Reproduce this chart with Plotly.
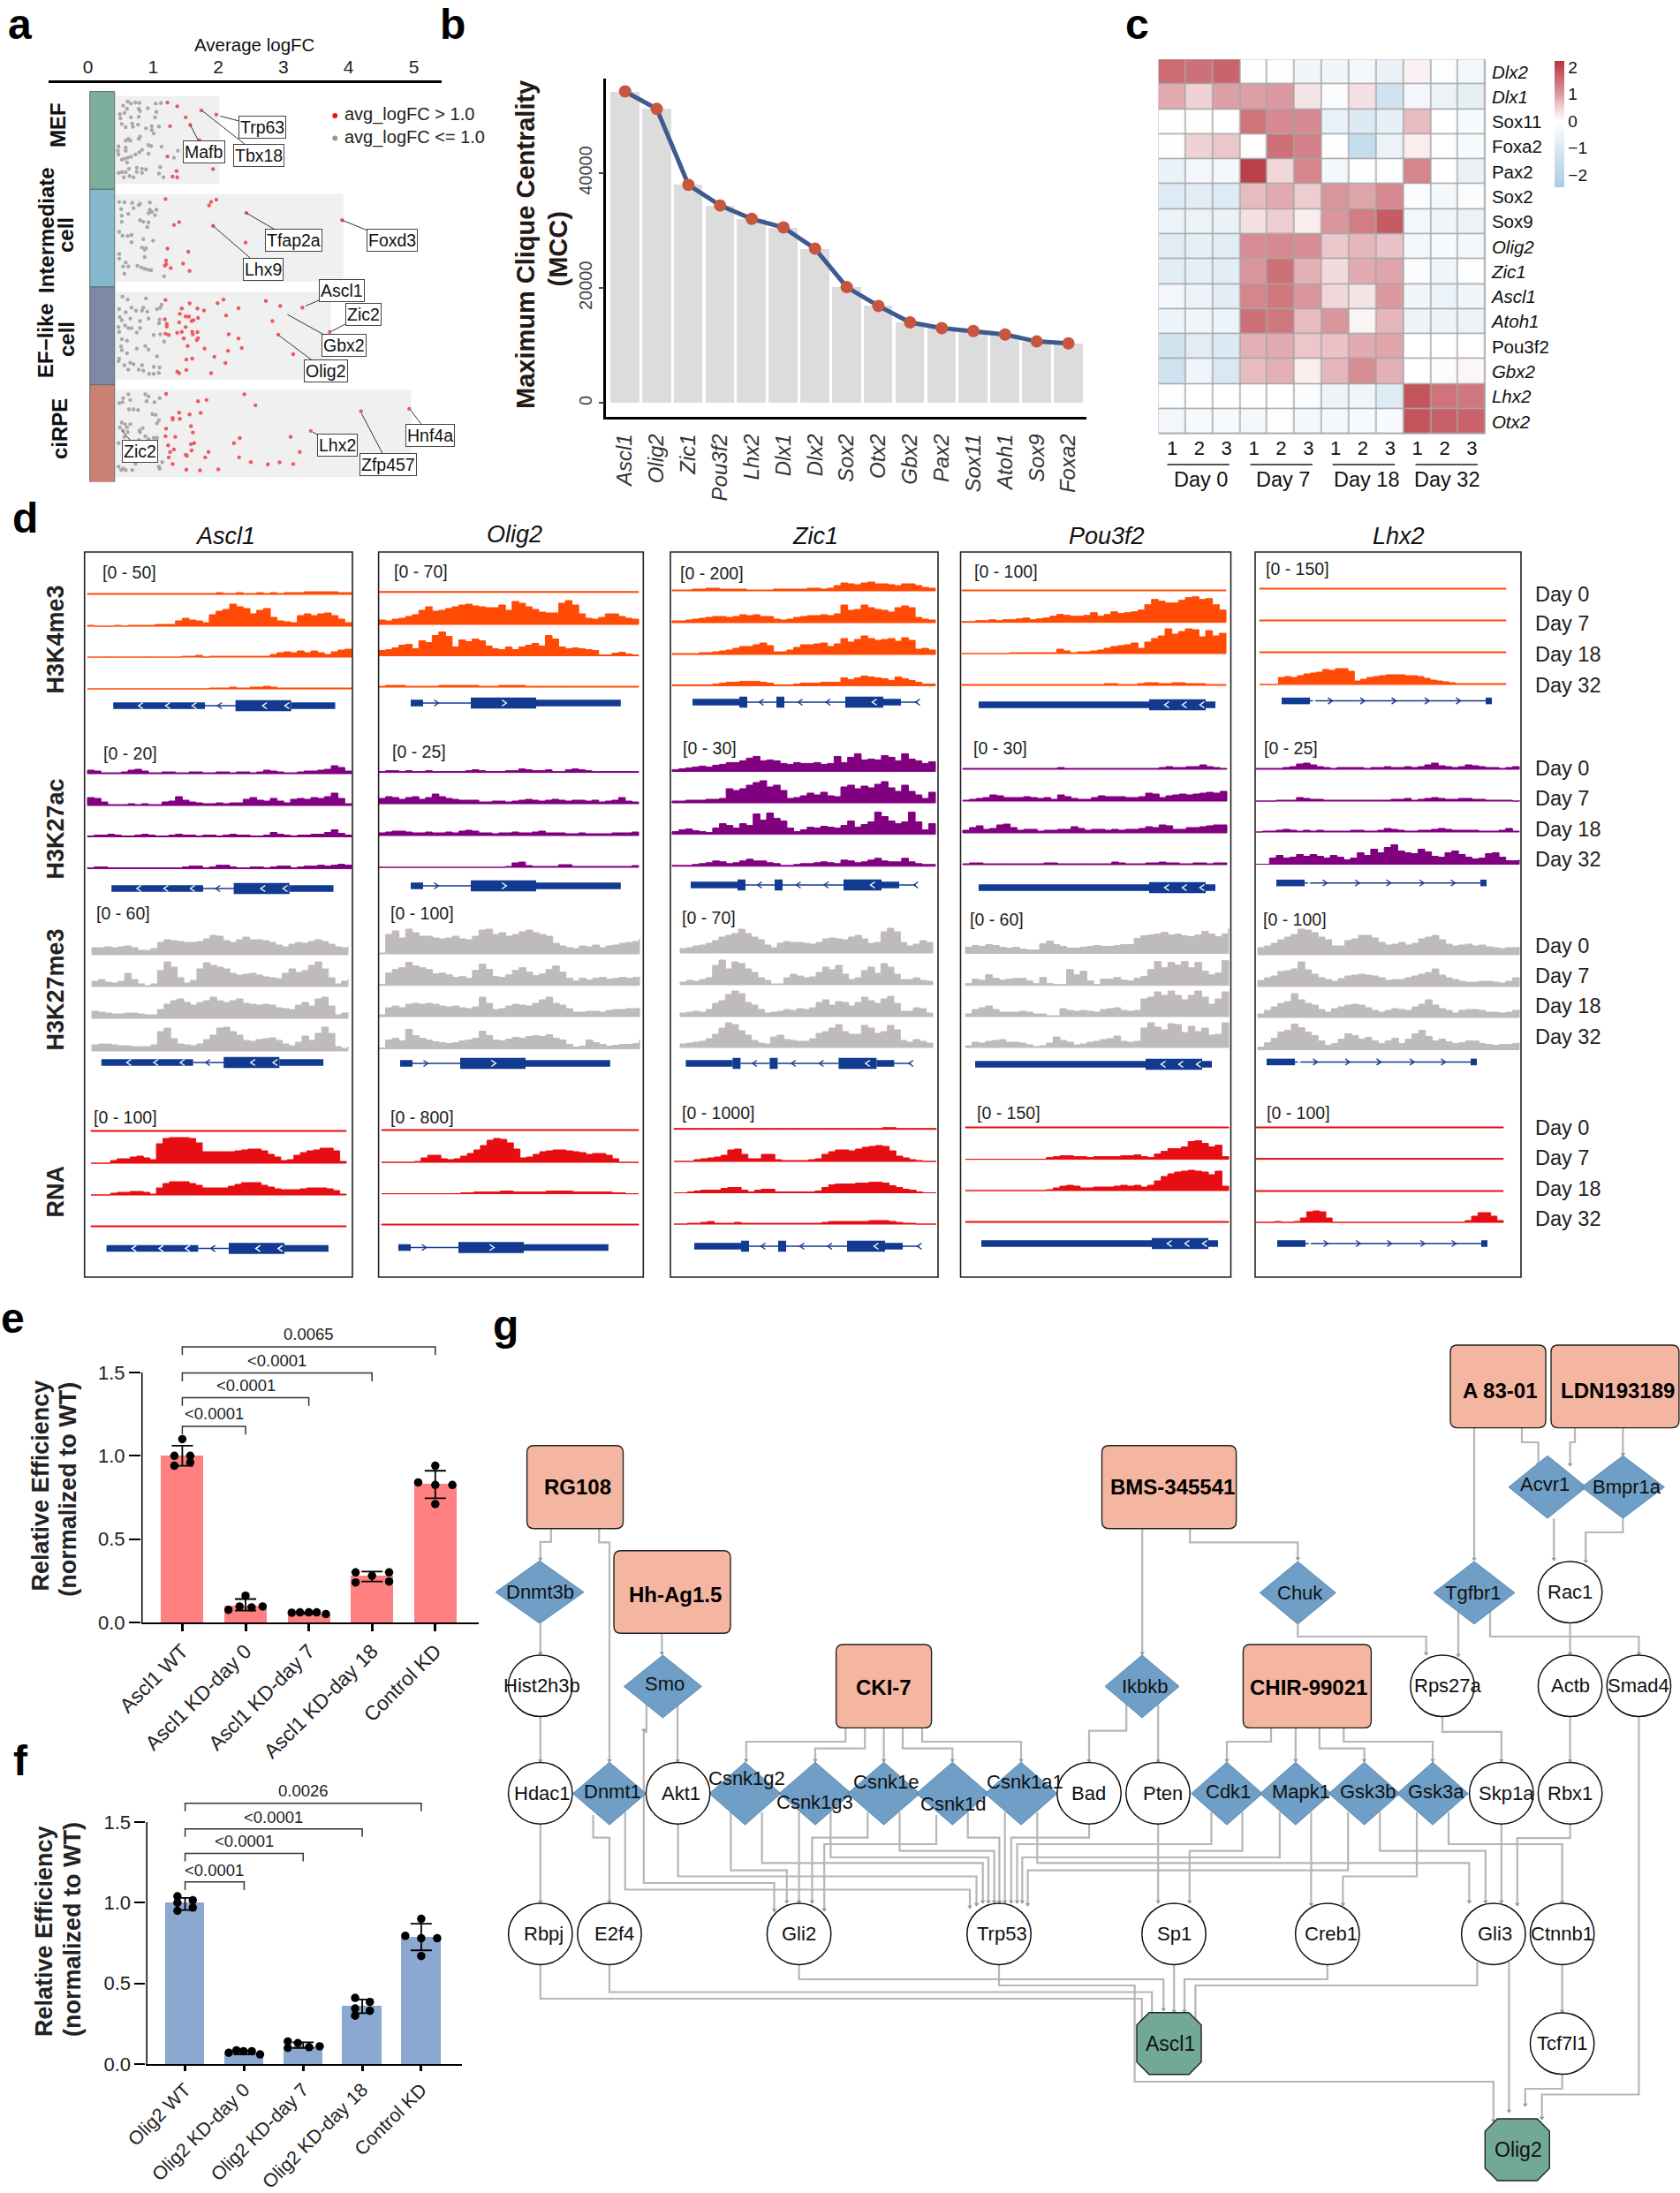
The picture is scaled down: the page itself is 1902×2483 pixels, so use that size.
import plotly.graph_objects as go

W, H = 1902, 2483
FONT = "Liberation Sans"

# ---------- panel a: average logFC (x) and jitter rank inside the row (y) ----------
GROUPS_A = ["MEF", "Intermediate cell", "EF-like cell", "ciRPE"]
GROUP_MAX_A = [2.02, 3.92, 3.73, 4.96]
mef_gray_x = [0.61,0.66,0.73,0.79,0.60,0.78,0.80,0.92,1.04,1.12,1.05,0.49,0.56,0.50,0.66,0.78,1.03,0.52,0.58,0.68,0.77,0.69,0.89,0.98,1.09,0.98,1.01,0.80,0.62,0.58,0.65,0.47,0.58,0.46,0.58,0.47,0.79,0.73,0.66,0.61,0.56,0.52,0.83,0.97,1.13,0.93,1.38,1.32,0.93,0.60,0.63,0.75,0.83,0.89,0.52,0.47,0.58,0.64,0.55,0.70,0.75,0.83,1.09,1.11,1.16,0.78,0.54]
mef_gray_y = [32,38,35,36,55,55,62,53,38,37,65,72,68,85,82,80,82,103,113,102,105,112,117,110,111,122,133,143,150,156,156,174,178,188,188,200,193,200,207,210,213,216,185,173,175,170,188,210,197,225,245,242,245,247,256,258,256,268,272,272,255,258,260,240,272,150,45]
mef_red_x = [1.22,1.37,1.74,1.97,1.50,1.57,1.26,1.71,1.22,1.92,1.36,1.30,1.37]
mef_red_y = [35,47,60,73,82,106,110,154,206,246,252,270,272]
int_gray_x = [0.48,0.56,0.68,0.80,0.95,0.78,0.70,0.51,0.62,0.52,0.95,1.05,0.98,0.93,1.03,0.80,0.85,0.52,0.93,0.91,0.48,0.53,0.61,0.67,0.67,0.85,1.00,0.83,0.89,0.87,0.48,0.48,0.87,0.58,0.54,0.62,0.76,0.82,0.87,0.92,0.97,0.56,1.17]
int_gray_y = [40,41,43,46,42,50,60,63,78,84,65,65,72,76,82,98,103,103,105,120,135,147,148,145,168,158,163,185,187,192,205,220,215,232,245,245,243,248,252,255,257,268,276]
int_red_x = [1.19,1.97,1.89,1.86,2.43,3.90,1.40,1.32,1.92,2.42,1.22,1.54,1.20,1.46,1.20,1.18,1.27,1.56]
int_red_y = [31,33,40,51,75,98,104,113,116,169,188,198,226,236,238,242,250,259]
ef_gray_x = [0.53,0.61,0.89,1.13,0.48,0.67,0.85,1.06,1.11,0.74,0.91,0.83,0.58,0.49,0.65,0.93,0.52,0.80,1.10,1.09,0.47,0.57,0.62,0.67,0.80,0.48,0.75,1.01,1.11,1.17,0.52,0.60,0.51,0.88,0.75,0.93,0.52,0.60,0.48,0.47,1.06,0.56,0.65,0.70,0.62,0.78,0.85,1.01,1.10,0.94,1.01,1.09,0.83]
ef_gray_y = [30,40,36,56,70,65,65,70,66,75,78,75,80,95,100,100,105,108,103,115,127,122,130,130,130,142,144,152,150,173,165,170,188,187,195,198,200,210,227,235,220,248,240,245,262,262,265,253,255,275,275,272,248]
ef_red_x = [1.19,2.08,1.99,2.73,2.31,2.95,3.29,1.56,1.44,1.68,1.78,1.41,2.12,1.50,1.55,1.18,1.40,1.62,1.69,1.59,2.83,3.71,1.21,1.21,1.50,1.44,1.19,1.24,1.37,1.60,1.68,1.61,2.16,2.92,1.47,2.31,1.69,1.67,1.53,1.79,2.36,2.15,3.15,1.94,1.51,1.60,2.11,1.37,1.51,1.40,1.89]
ef_red_y = [41,40,51,44,67,60,65,52,68,68,74,85,90,93,94,102,112,105,98,108,108,142,117,125,127,142,148,152,145,142,143,150,150,151,163,163,162,168,187,195,193,202,213,221,230,227,241,268,263,273,273]
ci_gray_x = [0.48,0.54,0.62,0.53,0.65,0.88,0.93,0.90,1.02,1.10,0.63,0.70,0.77,0.99,1.04,1.09,1.06,0.52,0.57,0.65,0.49,0.60,0.54,0.61,0.79,0.84,0.80,0.56,0.88,0.93,1.01,1.06,0.67,0.47,1.01,1.14,0.73,0.68,0.47,0.54,0.58,0.51,1.09,1.10,0.78,0.65]
ci_gray_y = [58,42,30,55,48,30,37,52,55,42,78,78,80,93,95,112,122,120,125,125,135,135,145,150,145,137,150,165,163,172,168,168,185,185,210,245,250,270,260,265,270,270,260,266,175,200]
ci_red_x = [1.20,2.40,1.69,1.82,2.57,4.93,4.19,1.40,1.73,1.56,1.30,1.41,1.30,1.58,1.20,1.61,3.42,1.19,1.34,3.11,2.33,2.24,1.23,1.63,1.58,1.32,1.26,1.59,1.85,3.25,1.50,1.52,1.24,1.80,2.32,2.50,1.30,2.76,2.94,3.15,1.51,1.72,2.00]
ci_red_y = [29,30,52,48,65,76,84,88,89,94,105,108,110,131,139,151,146,163,165,165,169,185,192,185,188,205,213,208,213,213,222,225,230,230,230,245,251,252,246,251,269,271,268]

# ---------- panel b ----------
GENES_B = ["Ascl1","Olig2","Zic1","Pou3f2","Lhx2","Dlx1","Dlx2","Sox2","Otx2","Gbx2","Pax2","Sox11","Atoh1","Sox9","Foxa2"]
MCC_B = [54200,51160,37960,34370,32040,30550,26850,20170,16900,14030,13040,12540,11930,10720,10390]

# ---------- panel c ----------
GENES_C = ["<i>Dlx2</i>","<i>Dlx1</i>","Sox11","Foxa2","Pax2","Sox2","Sox9","<i>Olig2</i>","<i>Zic1</i>","<i>Ascl1</i>","<i>Atoh1</i>","Pou3f2","<i>Gbx2</i>","<i>Lhx2</i>","<i>Otx2</i>"]
REPS_C = ["1","2","3"] * 4
DAYS_C = ["Day 0","Day 7","Day 18","Day 32"]
row_dlx2 = [1.55,1.5,1.65,-0.1,-0.1,-0.4,-0.4,-0.3,-0.6,0.15,-0.1,-0.3]
row_dlx1 = [0.85,0.5,0.95,0.95,1.0,0.3,-0.15,0.35,-1.3,-0.35,-0.55,-0.75]
row_sox11 = [0,-0.03,0,1.45,1.2,1.2,-0.6,-0.95,-0.7,0.7,-0.02,-0.2]
row_foxa2 = [-0.03,0.5,0.6,0.02,1.5,1.3,-0.03,-1.6,-0.55,0.2,0.03,-0.2]
row_pax2 = [-0.6,-0.35,-0.35,2.1,0.45,1.25,-0.3,-0.1,-0.08,1.25,0,-0.6]
row_sox2 = [-0.9,-0.85,-0.9,0.7,0.85,0.55,1.05,0.9,1.2,-0.15,-0.3,-0.15]
row_sox9 = [-0.55,-0.55,-0.6,0.35,0.55,0.2,1.05,1.35,1.75,-0.35,-0.45,-0.55]
row_olig2 = [-0.85,-0.75,-0.85,1.15,1.2,1.15,0.6,0.75,0.65,-0.3,-0.25,-0.3]
row_zic1 = [-0.8,-0.75,-0.8,1.05,1.5,0.8,0.4,0.85,0.9,-0.12,-0.45,-0.1]
row_ascl1 = [-0.35,-0.5,-0.8,1.25,1.4,1.05,0.45,0.3,1.0,-0.4,-0.55,-0.45]
row_atoh1 = [-0.5,-0.45,-0.5,1.5,1.4,0.7,1.05,0.12,0.75,-0.5,-0.5,-0.55]
row_pou3f2 = [-1.3,-0.85,-0.95,0.8,0.85,0.6,0.65,0.85,0.9,0,0,0]
row_gbx2 = [-1.35,-0.45,-1.05,0.7,0.8,0.2,0.75,1.15,0.8,0,0.05,0.1]
row_lhx2 = [-0.1,0,0,-0.03,0,-0.15,-0.5,-0.45,-0.9,1.85,1.45,1.4]
row_otx2 = [-0.35,-0.25,-0.25,-0.3,-0.1,-0.3,-0.3,-0.25,-0.2,1.85,1.7,1.65]

# ---------- panel d: coverage signal per track (Day 0, 7, 18, 32), equal-width bins ----------
F = [1, 1]
ASCL1_K4 = [[1,1,1,1,1,1,1,1,1,1,1,1,1,1,1,1,1,1,1,2,1,1,2,1,1,2,1,2,1,2,2,2,3,3,3,3,3,2,2,1],
 [1,0,0,0,1,0,1,1,1,1,2,2,2,6,9,7,6,4,13,17,19,25,22,20,14,18,20,10,6,5,4,12,14,12,14,15,12,8,4,2],
 [0,0,0,0,0,0,0,0,0,0,0,0,0,0,1,1,2,0,1,1,1,1,1,1,1,1,1,3,5,6,5,7,5,7,5,3,6,8,9,6],
 [0,0,0,0,0,0,0,0,0,0,0,0,0,0,0,0,0,0,1,1,1,2,1,1,2,2,3,2,1,1,1,1,1,1,1,1,1,1,1,0]]
ASCL1_AC = [[4,3,1,1,1,2,4,5,3,1,1,2,2,1,1,2,2,1,1,2,2,1,2,2,1,2,4,3,2,1,1,2,3,3,4,5,9,7,3,1],
 [9,8,4,1,1,1,2,1,2,1,1,4,5,10,6,4,3,2,2,3,2,3,3,7,9,6,5,8,5,3,7,8,7,9,8,10,14,8,2,2],
 [1,2,2,3,2,1,1,2,3,2,1,1,2,3,2,2,1,2,2,1,2,3,2,2,1,1,2,5,3,2,1,2,2,3,3,5,8,4,2,1],
 [1,2,2,1,1,1,1,1,1,1,1,1,1,1,2,3,3,1,2,4,4,2,1,1,2,2,1,2,3,3,1,2,3,3,4,3,4,5,4,1]]
ASCL1_ME3 = [[8,8,9,8,9,10,8,5,5,7,14,17,16,15,14,14,15,18,22,21,16,14,17,20,17,17,16,14,11,9,12,14,13,15,17,15,12,9,8,9],
 [6,8,5,4,6,15,8,3,1,3,18,28,22,10,4,7,20,27,24,22,20,15,13,14,15,13,11,10,9,15,20,16,18,24,28,20,10,3,6,8],
 [8,7,6,5,5,6,6,5,4,4,10,16,20,22,18,15,18,20,24,20,18,20,22,17,16,15,16,15,12,11,10,15,18,14,22,24,14,4,6,7],
 [7,8,8,7,6,6,5,5,5,7,22,26,14,8,7,6,8,13,18,26,27,22,18,12,11,13,14,15,12,8,6,10,17,12,20,27,20,5,3,5]]
ASCL1_RNA = [F,
 [0,0,0,3,5,5,7,8,6,4,22,28,29,29,29,28,23,13,13,13,13,13,14,15,16,16,14,10,7,3,4,9,12,14,15,17,17,14,2,0],
 [0,0,0,2,3,3,4,4,3,1,8,13,15,15,15,13,11,8,8,8,8,10,12,14,14,14,11,9,7,6,6,6,7,8,8,8,7,5,1,0],
 F]
OLIG2_K4 = [F,
 [5,4,6,7,9,11,16,20,15,16,18,20,22,23,21,20,19,19,22,16,26,24,20,17,14,13,13,24,27,22,12,7,6,8,12,12,9,7,6,5],
 [6,7,9,12,13,8,17,15,23,27,22,10,18,16,19,17,11,8,7,10,7,10,12,14,11,23,19,10,8,9,8,7,6,1,1,3,4,2,1,1],
 [1,2,2,2,1,1,1,1,1,2,2,2,2,2,2,1,1,1,2,2,2,2,1,1,1,1,1,1,1,1,1,1,1,1,1,1,1,1,1,1]]
OLIG2_AC = [[1,2,2,1,2,1,1,2,1,1,1,1,1,2,3,2,1,1,1,2,2,4,3,2,2,3,1,1,3,4,3,2,1,1,1,1,1,1,1,1],
 [6,8,7,5,7,8,5,7,11,8,6,5,4,4,4,2,2,3,3,2,3,4,5,4,3,4,5,4,3,4,4,3,4,2,3,4,7,3,2,2],
 [3,4,5,5,4,3,3,4,3,3,4,3,5,6,5,3,3,2,3,3,4,3,3,4,5,3,3,3,2,2,3,2,2,2,2,3,3,3,4,4],
 [0,0,0,0,0,0,0,0,0,0,0,0,0,0,0,0,0,0,0,1,5,6,2,1,1,1,1,3,3,1,1,1,1,1,1,1,1,1,2,2]]
OLIG2_ME3 = [[1,22,26,18,28,24,20,20,18,17,18,20,17,16,20,27,28,22,24,20,22,25,27,24,22,20,12,9,7,6,9,8,10,7,9,10,12,13,14,17],
 [1,14,18,20,26,22,20,18,13,14,12,9,10,8,17,24,18,10,9,12,17,20,15,11,13,18,22,15,8,5,8,6,8,9,7,8,9,8,9,10],
 [2,10,12,10,14,15,14,15,14,12,11,12,10,9,11,22,15,8,9,12,14,13,12,15,19,22,15,13,9,5,5,6,6,5,7,8,8,9,9,10],
 [1,10,12,9,22,15,12,10,8,7,6,7,9,10,12,20,15,10,9,11,13,12,14,15,14,16,12,10,5,2,3,10,7,5,3,4,5,5,6,10]]
OLIG2_RNA = [F,
 [0,0,0,0,0,1,5,8,8,4,3,4,7,10,14,19,25,27,26,22,15,5,6,9,12,13,14,14,13,12,11,9,10,10,8,4,0,0,0,0],
 [0,0,0,0,0,0,0,0,0,0,0,0,1,1,2,2,2,2,3,3,2,2,2,2,2,3,3,3,3,2,2,2,2,2,2,1,1,0,0,0],
 F]
ZIC1_K4 = [[1,1,1,2,2,3,3,2,2,2,2,1,1,1,1,2,2,2,2,2,3,3,2,3,6,9,8,7,9,10,8,8,7,6,8,8,6,4,3,1],
 [2,2,3,4,5,6,7,7,6,7,9,8,9,7,7,4,3,4,6,7,8,8,9,8,10,20,14,15,20,17,15,14,12,17,19,17,6,4,3,1],
 [1,1,1,1,2,2,3,4,5,7,9,9,11,13,10,3,3,5,8,11,11,12,13,9,12,18,14,17,21,18,16,17,18,15,19,16,6,7,5,2],
 [1,1,1,1,1,1,2,3,4,4,5,5,5,4,3,1,1,1,2,3,3,3,4,4,4,9,7,9,11,10,9,8,6,10,8,6,4,2,2,1]]
ZIC1_AC = [[2,3,4,5,6,5,7,8,10,10,12,15,17,12,13,12,9,8,10,9,9,10,8,9,17,10,16,20,13,14,13,18,16,12,20,14,12,9,11,4],
 [2,2,3,3,3,4,4,5,16,14,16,20,23,25,18,20,14,5,6,8,11,9,12,8,7,18,20,16,19,17,21,24,17,13,20,13,9,5,12,8],
 [3,5,6,4,3,2,7,12,10,7,12,10,23,16,24,18,15,7,3,5,8,7,9,8,7,10,15,8,11,14,25,20,15,12,14,25,14,5,12,7],
 [1,1,1,2,3,4,6,5,3,4,6,8,6,6,4,3,1,1,2,3,3,4,5,4,3,7,6,4,5,7,9,6,5,5,9,5,3,2,2,1]]
ZIC1_ME3 = [[5,6,8,9,11,14,18,20,22,27,22,18,15,9,6,11,13,12,12,11,10,12,16,17,16,15,18,20,16,11,12,24,28,24,12,8,10,14,12,8],
 [3,5,4,6,8,22,28,18,26,24,18,14,8,5,1,1,8,12,10,8,9,14,20,17,22,12,6,8,16,20,13,24,20,12,6,6,8,5,4,3],
 [4,5,6,5,8,15,18,25,29,26,16,13,8,4,5,6,8,7,9,8,10,16,19,13,17,16,12,16,22,18,15,20,23,15,6,6,10,9,4,3],
 [4,5,6,7,10,15,22,28,26,19,14,8,5,4,12,14,9,8,7,7,10,16,18,22,26,18,15,15,25,22,16,18,25,20,8,6,9,7,5,3]]
ZIC1_RNA = [[1,1,1,1,1,1,1,1,1,1,1,1,1,1,1,1,1,1,1,1,1,1,1,1,1,1,1,1,1,1,1,2,2,1,1,1,1,1,1,1],
 [0,0,0,2,3,4,5,7,13,14,8,3,3,8,8,2,1,1,1,1,2,3,8,11,13,13,12,14,16,17,18,17,12,6,4,2,1,0,0,0],
 [0,0,1,2,3,3,3,5,6,6,3,1,3,4,4,1,1,1,1,1,1,2,6,9,10,10,10,11,11,12,12,11,8,6,4,3,1,0,0,0],
 [0,0,1,1,2,3,1,1,1,2,1,1,1,1,1,1,1,1,1,1,1,1,2,3,3,3,3,3,3,4,4,4,3,2,1,1,0,0,0,0]]
POU3F2_K4 = [F,
 [1,1,2,2,3,2,3,3,4,5,3,4,5,7,9,8,7,7,8,11,7,9,12,10,11,12,14,20,26,24,22,22,25,28,29,26,27,20,14,10],
 [0,0,0,0,0,0,0,1,1,1,1,1,1,1,5,3,1,2,2,3,4,6,8,9,10,12,6,13,17,20,28,22,25,28,27,19,26,20,23,18],
 [1,1,1,1,1,1,1,1,1,1,1,1,1,1,1,1,1,1,1,1,1,2,2,1,1,1,2,3,3,2,2,3,3,2,2,2,1,1,1,1]]
POU3F2_AC = [[1,1,1,1,1,1,1,1,1,1,1,1,1,1,2,1,1,1,1,1,1,1,1,1,1,1,1,1,1,2,3,2,2,3,3,5,3,2,1,1],
 [1,2,3,4,7,6,4,4,4,5,4,3,4,2,7,5,3,2,2,4,6,5,5,5,4,4,5,9,8,4,6,7,8,7,8,9,10,9,11,9],
 [3,6,8,4,5,9,10,6,3,4,4,2,3,3,4,4,7,5,3,4,4,3,4,3,4,4,5,7,6,9,8,4,4,6,6,7,8,9,9,8],
 [1,2,2,1,1,1,1,1,1,1,1,1,2,2,1,1,1,1,1,1,1,1,3,2,1,1,1,2,2,3,2,2,1,1,2,2,1,2,2,2]]
POU3F2_ME3 = [[7,9,8,10,9,7,6,7,5,4,4,11,14,10,8,6,6,7,8,9,8,8,9,10,10,17,20,21,22,24,21,22,20,19,21,25,22,19,22,28],
 [2,7,6,12,8,6,7,8,8,5,2,9,2,1,1,18,12,16,5,1,7,7,9,6,5,8,10,18,27,20,26,23,27,20,26,16,12,14,28,25],
 [3,8,10,12,8,5,5,5,6,5,3,3,1,1,9,7,6,7,6,5,8,9,10,7,6,7,20,22,28,24,29,24,19,24,29,22,14,20,28,22],
 [2,6,5,7,8,9,6,6,5,3,1,2,5,12,8,6,3,4,6,7,9,10,13,7,6,7,22,28,23,20,27,26,17,24,18,22,14,15,28,24]]
POU3F2_RNA = [F,
 [0,0,0,0,0,0,0,0,0,0,0,0,2,3,4,4,3,3,2,3,3,3,3,4,4,5,3,2,6,9,12,12,14,20,21,18,14,16,3,0],
 [0,0,0,0,0,0,0,0,0,0,0,0,1,3,5,6,5,3,3,4,4,4,5,6,5,6,4,6,11,16,19,21,22,23,22,21,18,22,5,0],
 F]
LHX2_K4 = [F, F, F,
 [0,0,0,8,9,8,10,12,13,14,17,16,18,18,15,4,6,8,9,10,11,11,11,10,10,9,7,5,4,3,2,1,1,1,1,1,1,1,1,1]]
LHX2_AC = [[1,1,1,1,2,3,6,7,5,3,2,1,2,2,2,2,1,2,2,3,2,2,3,2,3,5,7,4,3,2,3,5,4,3,2,2,1,2,3,2],
 [0,0,0,1,1,1,4,3,2,2,1,1,1,1,1,1,1,1,1,1,2,2,3,1,2,3,4,3,2,2,3,3,2,2,1,1,1,1,0,1],
 [0,1,1,2,3,2,1,2,1,2,1,1,1,1,2,2,1,1,2,4,3,2,1,1,2,2,3,4,3,2,2,2,2,1,1,1,2,4,1,0],
 [0,0,7,10,7,8,11,9,11,9,7,10,8,5,7,13,10,17,13,19,22,15,13,12,17,14,9,8,13,15,11,8,6,7,12,13,8,4,4,5]]
LHX2_ME3 = [[8,10,13,17,20,23,29,28,25,20,17,10,10,16,18,22,22,19,14,11,12,14,11,13,18,20,22,17,12,10,11,12,10,11,9,8,7,8,8,9],
 [7,10,12,17,18,20,28,19,14,10,8,6,9,12,13,14,13,12,10,7,8,8,10,12,14,16,20,13,10,8,6,5,5,6,6,5,4,6,10,8],
 [4,8,12,16,18,27,20,16,14,9,6,10,12,14,15,14,11,8,6,8,10,9,8,12,15,20,14,10,8,5,8,9,9,8,6,6,5,6,8,9],
 [3,8,13,20,22,29,25,20,16,10,5,7,12,18,16,12,14,10,7,10,13,7,12,18,22,15,10,12,9,7,8,10,10,7,6,5,6,6,7,8]]
LHX2_RNA = [F, F, F,
 [0,0,0,1,0,0,1,5,12,13,12,5,0,0,0,0,0,0,0,0,0,0,0,0,0,0,0,0,0,0,0,0,0,2,7,11,11,7,2,0]]
RANGES_ASCL1 = ["[0 - 50]","[0 - 20]","[0 - 60]","[0 - 100]"]
RANGES_OLIG2 = ["[0 - 70]","[0 - 25]","[0 - 100]","[0 - 800]"]
RANGES_ZIC1 = ["[0 - 200]","[0 - 30]","[0 - 70]","[0 - 1000]"]
RANGES_POU3F2 = ["[0 - 100]","[0 - 30]","[0 - 60]","[0 - 150]"]
RANGES_LHX2 = ["[0 - 150]","[0 - 25]","[0 - 100]","[0 - 100]"]
DAYS_D = ["Day 0","Day 7","Day 18","Day 32"]

# ---------- panels e, f ----------
CATS_E = ["Ascl1 WT","Ascl1 KD-day 0","Ascl1 KD-day 7","Ascl1 KD-day 18","Control KD"]
MEAN_E = [1.0,0.10,0.055,0.28,0.83]
ERR_UP_E = [0.06,0.04,0.005,0.025,0.08]
ERR_DN_E = [0.06,0.03,0.005,0.035,0.085]
DOTS_E = [[1.10,1.00,1.00,0.94,0.96],[0.16,0.075,0.095,0.09,0.095],[0.058,0.06,0.06,0.06,0.05],[0.30,0.30,0.28,0.24,0.245],[0.94,0.84,0.825,0.825,0.71]]
JIT_E = [[0,-.125,.125,-.125,.125],[0,-.27,-.095,.095,.27],[-.27,-.14,0,.125,.27],[-.26,.27,0,-.26,.27],[0,-.27,0,.27,0]]
PVALS_E = ["0.0065","<0.0001","<0.0001","<0.0001"]
CATS_F = ["Olig2 WT","Olig2 KD-day 0","Olig2 KD-day 7","Olig2 KD-day 18","Control KD"]
MEAN_F = [1.0,0.07,0.11,0.36,0.79]
ERR_UP_F = [0.03,0.01,0.025,0.04,0.08]
ERR_DN_F = [0.045,0.01,0.01,0.045,0.085]
DOTS_F = [[1.04,1.015,1.0,0.97,0.95],[0.07,0.085,0.08,0.08,0.06],[0.14,0.13,0.10,0.105,0.11],[0.41,0.385,0.345,0.33,0.30],[0.90,0.795,0.78,0.78,0.67]]
JIT_F = [[-.13,.13,-.13,.13,-.13],[-.26,-.13,-.01,.13,.27],[-.26,-.09,-.26,.1,.28],[-.12,.13,-.12,.13,-.12],[0,-.27,0,.27,0]]
PVALS_F = ["0.0026","<0.0001","<0.0001","<0.0001"]

# ---------- helpers ----------
fig = go.Figure()
annots, shapes = [], []

def dx(l, r): return [l / W, r / W]
def dy(t, b): return [1 - b / H, 1 - t / H]

def txt(x, y, s, size, anchor="center", angle=0, color="#111"):
    annots.append(dict(x=x / W, y=1 - y / H, xref="paper", yref="paper", text=s, showarrow=False,
                       xanchor=anchor, yanchor="middle", textangle=angle,
                       font=dict(size=size, color=color, family=FONT), borderpad=0))

for s, x, y in [("a",22,28),("b",512,28),("c",1287,28),("d",28,586),("e",14,1492),("f",23,1993),("g",572,1500)]:
    txt(x, y, f"<b>{s}</b>", 48, color="#000")

# ---------- panel a ----------
A_COLORS = ["#7DAE9C", "#85B8CC", "#7C8AA8", "#CB8275"]
row_step = 310
for i, (gmax, col) in enumerate(zip(GROUP_MAX_A, A_COLORS)):
    shapes.append(dict(type="rect", xref="x", yref="y", x0=0.425, x1=gmax, y0=15 + i * row_step, y1=293 + i * row_step,
                       fillcolor="#F0F0F0", line_width=0, layer="below"))
    shapes.append(dict(type="rect", xref="x", yref="y", x0=0.03, x1=0.41, y0=i * row_step, y1=(i + 1) * row_step,
                       fillcolor=col, line=dict(color="#5F6B68", width=1), layer="below"))
pts = [(mef_gray_x, mef_gray_y, mef_red_x, mef_red_y), (int_gray_x, int_gray_y, int_red_x, int_red_y),
       (ef_gray_x, ef_gray_y, ef_red_x, ef_red_y), (ci_gray_x, ci_gray_y, ci_red_x, ci_red_y)]
for i, (gx, gy, rx, ry) in enumerate(pts):
    fig.add_trace(go.Scatter(x=gx, y=[v + i * row_step for v in gy], mode="markers", xaxis="x", yaxis="y",
                             marker=dict(size=4.4, color="#A8A8A8")))
    fig.add_trace(go.Scatter(x=rx, y=[v + i * row_step for v in ry], mode="markers", xaxis="x", yaxis="y",
                             marker=dict(size=4.4, color="#EC5B5E")))
fig.add_trace(go.Scatter(x=[3.79], y=[77], mode="markers", xaxis="x", yaxis="y", marker=dict(size=6, color="#E8141C")))
fig.add_trace(go.Scatter(x=[3.79], y=[148], mode="markers", xaxis="x", yaxis="y", marker=dict(size=6, color="#999999")))
txt(389, 129, "avg_logFC &gt; 1.0", 20, "left", color="#222")
txt(389, 156, "avg_logFC &lt;= 1.0", 20, "left", color="#222")
txt(288, 50, "Average logFC", 20.5)
a_labels = [("Trp63",2.03,78,48,12.5),("Tbx18",1.76,62,63.5,50),("Mafb",1.57,106,16,31),("Tfap2a",2.43,385,54,31.4),
            ("Foxd3",3.90,408,57,23),("Lhx9",1.92,426,56.6,49),("Ascl1",3.34,680,41,-17.5),("Zic2",3.74,760,36,-18.6),
            ("Gbx2",3.06,707,64,35.4),("Olig2",2.94,775,53,39.6),("Hnf4a",4.95,1010,22,29),("Lhx2",3.45,1080,27.5,15),
            ("Zfp457",4.20,1022,30,57),("Zic2",0.52,1075,21,24)]
for name, x, y, ax, ay in a_labels:
    annots.append(dict(x=x, y=y, xref="x", yref="y", text=name, ax=ax, ay=ay, showarrow=True, arrowhead=0, arrowwidth=1,
                       arrowcolor="#333", standoff=0, bgcolor="white", bordercolor="#444", borderwidth=1, borderpad=1,
                       font=dict(size=19.5, color="#111", family=FONT)))
txt(66, 142, "<b>MEF</b>", 24, angle=-90)
txt(52, 261, "<b>Intermediate</b>", 24, angle=-90)
txt(75, 266, "<b>cell</b>", 24, angle=-90)
txt(52, 386, "<b>EF−like</b>", 24, angle=-90)
txt(75, 384, "<b>cell</b>", 24, angle=-90)
txt(68, 486, "<b>ciRPE</b>", 24, angle=-90)

# ---------- panel b ----------
xb = list(range(len(GENES_B)))
fig.add_trace(go.Bar(x=xb, y=MCC_B, width=0.91, marker=dict(color="#DCDCDC", line_width=0), xaxis="x2", yaxis="y2"))
fig.add_trace(go.Scatter(x=xb, y=MCC_B, mode="lines+markers", xaxis="x2", yaxis="y2",
                         line=dict(color="#3E5A8E", width=5), marker=dict(size=14, color="#C8553D")))
txt(595, 277, "<b>Maximum Clique Centrality</b>", 29, angle=-90, color="#231815")
txt(631.5, 282, "<b>(MCC)</b>", 29, angle=-90, color="#231815")

# ---------- panel c ----------
Z = [row_dlx2,row_dlx1,row_sox11,row_foxa2,row_pax2,row_sox2,row_sox9,row_olig2,row_zic1,row_ascl1,row_atoh1,row_pou3f2,row_gbx2,row_lhx2,row_otx2]
shapes.append(dict(type="rect", xref="x3", yref="y3", x0=-0.5, x1=11.5, y0=-0.5, y1=14.5, fillcolor="#A6A6A6",
                   line=dict(color="#A6A6A6", width=1.5), layer="below"))
fig.add_trace(go.Heatmap(z=Z, x=list(range(12)), y=list(range(15)), xaxis="x3", yaxis="y3", zmin=-2.45, zmax=2.24,
    xgap=1.5, ygap=1.5,
    colorscale=[[0,"#A9CCE6"],[0.26,"#D3E4F0"],[0.522,"#FFFFFF"],[0.63,"#EFD2D5"],[0.735,"#DB9AA1"],[0.87,"#CB656C"],[1,"#B4353F"]],
    colorbar=dict(x=1759.6 / W, xanchor="left", y=1 - 69 / H, yanchor="top", len=143 / H, lenmode="fraction", thickness=10.6,
                  thicknessmode="pixels", outlinewidth=0, xpad=0, ypad=0, ticks="", tickvals=[-2,-1,0,1,2],
                  ticktext=["−2","−1","0","1","2"], tickfont=dict(size=19, color="#111", family=FONT))))
for c in [0.96, 4.01, 7.03, 10.07]:
    shapes.append(dict(type="line", xref="x3", yref="paper", x0=c - 1.14, x1=c + 1.14, y0=1 - 526 / H, y1=1 - 526 / H,
                       line=dict(color="#231815", width=1.5)))
for day, x in zip(DAYS_C, [1359, 1452, 1547, 1638]):
    txt(x, 543, day, 23.5)

# ---------- panel d ----------
BOXES = [(95.7,399),(428.6,728.3),(759,1062),(1087.5,1393.5),(1421,1722)]
TITLES = [("Ascl1",255,607),("Olig2",582,605),("Zic1",923,607),("Pou3f2",1253,607),("Lhx2",1583.4,607)]
COLORS_D = ["#FF4B05","#800080","#BFBBBB","#E70E13"]
SIG = [[ASCL1_K4,ASCL1_AC,ASCL1_ME3,ASCL1_RNA],[OLIG2_K4,OLIG2_AC,OLIG2_ME3,OLIG2_RNA],[ZIC1_K4,ZIC1_AC,ZIC1_ME3,ZIC1_RNA],
       [POU3F2_K4,POU3F2_AC,POU3F2_ME3,POU3F2_RNA],[LHX2_K4,LHX2_AC,LHX2_ME3,LHX2_RNA]]
BASE = [[[673,709,744,780],[876,912,947.5,983.6],[1081,1117,1153,1190],[1281,1317,1353,1389]],
        [[670.8,707,742.5,778],[874.6,910,946,982],[1080,1115.7,1151,1187.5],[1280,1316,1351.6,1387]],
        [[669,705,741,776.4],[873.4,909,944.6,980.8],[1079,1115,1151,1186],[1278.7,1315,1350.5,1386]],
        [[669,704.7,740,776],[871,907,943,979],[1079.5,1115.7,1151,1186],[1277,1312.6,1348,1384]],
        [[667,703,739,775],[871,907,942,978.5],[1081,1117,1152,1188.6],[1277,1312.6,1349,1384]]]
XR = [[(99,398),(99,398),(104,394),(103,392)],[(429,723),(429,723),(429,724),(432,723)],[(761,1059),(761,1059),(770,1056),(763,1060)],
      [(1089,1388),(1090,1389),(1093,1391),(1093,1391)],[(1426,1705),(1422,1720),(1424,1720),(1422,1702)]]
for gi in range(5):
    l, r = BOXES[gi]
    shapes.append(dict(type="rect", xref="x9", yref="y9", x0=l, x1=r, y0=625, y1=1446, line=dict(color="#222", width=1.6), layer="above"))
    name, tx, ty = TITLES[gi]
    txt(tx, ty, f"<i>{name}</i>", 27)
    for mi in range(4):
        x0, x1 = XR[gi][mi]
        for di in range(4):
            vals = SIG[gi][mi][di]
            b = BASE[gi][mi][di]
            n = len(vals)
            xs = [x0 + (x1 - x0) * k / (n - 1) for k in range(n)]
            ys = [b - v for v in vals]
            fig.add_trace(go.Scatter(x=[x0] + xs + [x1, x0], y=[b] + ys + [b, b], mode="lines", fill="toself", xaxis="x9", yaxis="y9",
                                     fillcolor=COLORS_D[mi], line=dict(color=COLORS_D[mi], width=1, shape="hv")))
RANGE_POS = [[(115,648),(116,853),(108,1033.6),(105,1265)],[(444.5,647),(442.6,850.5),(441,1034),(441,1265)],
             [(768.5,649),(772,847),(771,1039),(771,1260)],[(1102.4,647),(1101,847),(1097,1041),(1105,1260)],
             [(1431.5,644),(1430,847),(1428.6,1041),(1432.7,1260)]]
for labs, pos in zip([RANGES_ASCL1,RANGES_OLIG2,RANGES_ZIC1,RANGES_POU3F2,RANGES_LHX2], RANGE_POS):
    for s, (x, y) in zip(labs, pos):
        txt(x, y, s, 19.5, "left", color="#222")
for s, y in [("H3K4me3",724),("H3K27ac",938),("H3K27me3",1120),("RNA",1349)]:
    txt(62.5, y, f"<b>{s}</b>", 27, angle=-90, color="#222")
for ys in [(672.5,706.4,741,776),(870,904,939,973),(1071,1105,1139,1174),(1277,1311,1346,1380)]:
    for day, y in zip(DAYS_D, ys):
        txt(1737, y, day, 23.5, "left", color="#222")

MODELS = [
 dict(utr=[(128.2,232),(329.7,379.5)], cds=[(266.6,329.7)], line=[(232,267)], white=[(159.4,-1),(190,-1),(220,-1),(299.7,-1),(325,-1)], blue=[(248.7,-1)],
      rows=[(0,799),(-2,1006),(-13.4,1203),(-7.6,1413.6)]),
 dict(utr=[(465,479),(607,702.8)], cds=[(533,607)], line=[(479,533)], white=[(570.8,1)], blue=[(494,1)],
      rows=[(0,796),(0,1003),(-12,1204),(-14,1412.5)]),
 dict(utr=[(784,837),(1000,1020)], cds=[(837,846),(879,888),(957,1000)], line=[(846,879),(888,957),(1020,1039)], white=[(990,-1)], blue=[(862,-1),(906,-1),(937.5,-1),(1039,-1)],
      rows=[(0,795),(-2,1002),(-7.6,1204),(2,1411)]),
 dict(utr=[(1108,1301),(1365,1376)], cds=[(1301,1365)], line=[], white=[(1321,-1),(1341,-1),(1361,-1)], blue=[],
      rows=[(0,798),(0,1005),(-4,1205),(3,1408)]),
 dict(utr=[(1451,1483),(1682,1689)], cds=[], line=[(1483,1682)], white=[(1486,1)], blue=[(1506,1),(1542.6,1),(1578,1),(1615.6,1),(1651,1)],
      rows=[(0,793.6),(-6,999.7),(-17,1202.4),(-5,1408)]),
]
GENE_BLUE = "#123A91"
def segs(items, shift, y):
    xs, ys = [], []
    for a, b in items:
        xs += [a + shift, b + shift, None]; ys += [y, y, None]
    return xs, ys
def chevs(items, shift, y):
    xs, ys = [], []
    for c, d in items:
        xs += [c + shift - 2.5 * d, c + shift + 2.5 * d, c + shift - 2.5 * d, None]
        ys += [y - 3.5, y, y + 3.5, None]
    return xs, ys
for m in MODELS:
    for shift, y in m["rows"]:
        for items, w in [(m["line"], 1.5), (m["utr"], 7.5), (m["cds"], 12.5)]:
            if items:
                xs, ys = segs(items, shift, y)
                fig.add_trace(go.Scatter(x=xs, y=ys, mode="lines", xaxis="x9", yaxis="y9", line=dict(color=GENE_BLUE, width=w)))
        for items, col in [(m["blue"], GENE_BLUE), (m["white"], "white")]:
            if items:
                xs, ys = chevs(items, shift, y)
                fig.add_trace(go.Scatter(x=xs, y=ys, mode="lines", xaxis="x9", yaxis="y9", line=dict(color=col, width=1.4)))

# ---------- panels e, f ----------
def bar_panel(xa, ya, cats, mean, up, dn, dots, jit, color, brackets, pvals, px_per_unit, bw, ylabel_x, ylabel_y):
    xs = list(range(5))
    fig.add_trace(go.Bar(x=xs, y=mean, width=bw, marker=dict(color=color, line_width=0), xaxis=xa, yaxis=ya))
    fig.add_trace(go.Scatter(x=xs, y=mean, mode="markers", marker=dict(size=1, color="rgba(0,0,0,0)"), xaxis=xa, yaxis=ya,
                             error_y=dict(type="data", array=up, arrayminus=dn, color="#000", thickness=1.8, width=12)))
    dx_, dy_ = [], []
    for i in xs:
        dx_ += [i + j for j in jit[i]]; dy_ += dots[i]
    fig.add_trace(go.Scatter(x=dx_, y=dy_, mode="markers", marker=dict(size=9.5, color="#000"), xaxis=xa, yaxis=ya))
    for (x2, y), p in zip(brackets, pvals):
        fig.add_trace(go.Scatter(x=[0, 0, x2, x2], y=[y - 0.05, y, y, y - 0.05], mode="lines", xaxis=xa, yaxis=ya,
                                 line=dict(color="#333", width=1.5)))
        annots.append(dict(x=x2 / 2, y=y + 0.075, xref=xa, yref=ya, text=p.replace("<", "&lt;"), showarrow=False, xanchor="center",
                           yanchor="middle", font=dict(size=18.5, color="#222", family=FONT)))
    txt(ylabel_x[0], ylabel_y[0], "<b>Relative Efficiency</b>", 27, angle=-90, color="#222")
    txt(ylabel_x[1], ylabel_y[1], "<b>(normalized to WT)</b>", 27, angle=-90, color="#222")

bar_panel("x4", "y4", CATS_E, MEAN_E, ERR_UP_E, ERR_DN_E, DOTS_E, JIT_E, "#FF8080",
          [(4,1.654),(3,1.497),(2,1.349),(1,1.177)], PVALS_E, 188.6, 0.673, (46.4,76.8), (1682,1686))
bar_panel("x5", "y5", CATS_F, MEAN_F, ERR_UP_F, ERR_DN_F, DOTS_F, JIT_F, "#8AA8D0",
          [(4,1.617),(3,1.458),(2,1.306),(1,1.129)], PVALS_F, 182.6, 0.668, (50,82), (2187,2185))
for xa, ya, xl in [("x4","y4",-0.648),("x5","y5",-0.661)]:
    shapes.append(dict(type="line", xref=xa, yref=ya, x0=xl, x1=xl, y0=0, y1=1.5, line=dict(color="#000", width=3)))

# ---------- panel g ----------
DRUGS = [("RG108",596.6,705.5,1636.7,1730.7,653.8,1683.7),("Hh-Ag1.5",695,827,1755.8,1849.2,764,1805.3),
         ("CKI-7",946.6,1054.6,1862,1956.4,1001,1910),("BMS-345541",1247.5,1399.6,1636.7,1730.7,1327.6,1683),
         ("CHIR-99021",1407.4,1552.4,1862,1956.4,1481,1910.7),("A 83-01",1642,1750,1523,1616.6,1698,1574),
         ("LDN193189",1756,1900.9,1523,1616.6,1831.7,1574)]
DIAMONDS = [("Dnmt3b",611,1802.7,50,0,0),("Smo",750.4,1909.5,44,2,-3),("Dnmt1",690,2030.7,41.5,3,-2),("Csnk1g2",843.5,2030.7,40.5,2,-17.5),
            ("Csnk1g3",923,2030.7,41,-1,10),("Csnk1e",1000.6,2030.7,41,3,-13),("Csnk1d",1078.3,2030.7,41,1,12),("Csnk1a1",1156,2030.7,41,4,-13),
            ("Cdk1",1389,2030.7,40.3,1,-2),("Mapk1",1466.8,2030.7,40.3,6,-2),("Gsk3b",1544.6,2030.7,40.3,4,-2),("Gsk3a",1622,2030.7,40.3,4,-2),
            ("Ikbkb",1293,1909.4,42,3,0),("Chuk",1469.3,1803.4,43,3,0),("Tgfbr1",1669,1803.4,46,-1,0),("Acvr1",1752,1683.7,44,-3,-3),("Bmpr1a",1837.4,1683.7,47,5,0)]
ELLIPSES = [("Hist2h3b",611.8,1908.8,2),("Hdac1",611.8,2030.4,2),("Akt1",767.6,2030.4,3),("Bad",1233,2030.4,-1),("Rbpj",611.8,2189.7,4),
            ("E2f4",690,2189.7,5),("Gli2",904.6,2189.7,0),("Trp53",1131,2189.7,3),("Pten",1311,2030.4,5),("Skp1a",1699.8,2030.4,6),
            ("Rbx1",1777.6,2030.4,0),("Rps27a",1633,1908.8,6),("Actb",1777.6,1908.8,0),("Smad4",1855.4,1908.8,0),("Rac1",1777.6,1802.8,0),
            ("Sp1",1329,2189.7,0),("Creb1",1502.8,2189.7,4.5),("Gli3",1690.8,2189.7,2),("Ctnnb1",1768.6,2189.7,0),("Tcf7l1",1768.6,2313.8,0)]
OCTAGONS = [("Ascl1",1323.5,2313.8),("Olig2",1717.8,2434)]
EDGES = [(623.8,1730.7,1745.8,611.8,1767),(678.3,1730.7,1746.4,690,1995.3),(611.8,1838.6,None,611.8,1873.7),(611.8,1943.5,None,611.8,1995.6),
 (611.8,2065,None,611.8,2155),(749.3,1849,None,749.3,1873.7),(767.1,1929.5,None,767.1,1995.6),(731.9,1929.5,1960.8,728.8,1960.8),
 (728.8,1960.8,2132,876.5,2164.6),(671.6,2054.9,2080.6,690,2155),(707.8,2051.7,2139.5,1098,2161),(767.6,2066,2124.5,1105.5,2158),
 (827.4,2051.7,2117.6,890.8,2155),(862.7,2051.7,2109.4,1112.7,2155),(904.6,2051.7,None,904.6,2155),(940.4,2051.7,2103,1119,2155),
 (982.3,2051.7,2080.6,919.4,2155),(1018.5,2051.7,2095.6,1125.6,2155),(1060,2055,2088,933.2,2164),(1095.7,2051.7,2080.6,1131.4,2155),
 (1137.7,2051.7,None,1137.7,2155),(1174.3,2051.7,2109.4,1663.4,2155),(1233,2066,2080.6,1144.8,2155),(957.3,1956.4,1972,844.8,1995),
 (979.2,1956.4,1979.6,923,1995),(1000.6,1956.4,None,1000.6,1995),(1022,1956.4,1979.6,1078.3,1995),(1044,1956.4,1972,1156,1995),
 (1275.2,1929.5,1959.6,1233,1995.6),(1311.2,1930,None,1311.2,1995.6),(1293.2,1730.7,None,1293.2,1873.7),(1347.2,1730.7,1746.4,1469.3,1766.5),
 (1469.3,1838.6,1853,1614.6,1874),(1651,1823,None,1651,1876),(1687,1823,1853,1855.4,1874),(1669,1616.6,None,1669,1767),
 (1723,1616.6,1633,1741.6,1660),(1783,1616.6,1633,1777.6,1660),(1837.4,1616.6,None,1837.4,1648.6),(1759.2,1719.4,None,1759.2,1767),
 (1837.4,1719.4,1735,1795.2,1769.6),(1777.6,1837.6,None,1777.6,1874),(1777.6,1943.6,None,1777.6,1995.6),(1633,1944,1960.8,1699.8,1995.3),
 (1699.8,2065.5,None,1699.8,2155),(1777.6,2065.5,2081.2,1717.8,2158),(1640,2051.7,2088,1768.6,2155),(1562.2,2051.7,2095.6,1681.8,2155),
 (1604,2051.7,2124.5,1520.4,2158),(1526.2,2051.7,2117.6,1163.6,2158),(1484.4,2051.7,None,1484.4,2158),(1448.8,2051.7,2103,1157.3,2155),
 (1371.4,2051.7,2088,1151.5,2155),(1406.6,2051.7,2095.6,1346.8,2155),(1311.2,2065.5,None,1311.2,2155),(1439,1956.4,1972,1389,1995),
 (1466.8,1956.4,None,1466.8,1995),(1493.8,1956.4,1979.6,1544.6,1995),(1521.3,1956.4,1972,1622,1995),(1329.2,2224,None,1329.2,2279),
 (904.6,2224,2241,1317.3,2277),(690,2224,2255.5,1304.2,2283.7),(611.8,2224,2263,1292.8,2290),(1502.8,2224,2241,1341,2279),
 (1672.4,2221,2248,1353.4,2290),(1708.4,2221,None,1708.4,2392),(1768.6,2224,None,1768.6,2279),(1768.6,2348,2365,1726.8,2385),
 (1855.4,1944,2371.5,1745.7,2400)]
ex, ey, ax_, ay_ = [], [], [], []
for x1, y1, ym, x2, y2 in EDGES:
    if ym is None:
        ex += [x1, x1, None]; ey += [y1, y2, None]
    else:
        ex += [x1, x1, x2, x2, None]; ey += [y1, ym, ym, y2, None]
    ax_.append(x2); ay_.append(y2 - 2)
# Trp53 to Olig2 route with its extra bends
ex += [1131, 1131, 1284.6, 1284.6, 1690.8, 1690.8, None]
ey += [2224, 2248, 2248, 2357, 2357, 2403, None]
ax_.append(1690.8); ay_.append(2401)
fig.add_trace(go.Scatter(x=ex, y=ey, mode="lines", xaxis="x9", yaxis="y9", line=dict(color="#B6B6B6", width=2.2)))
fig.add_trace(go.Scatter(x=ax_, y=ay_, mode="markers", xaxis="x9", yaxis="y9", marker=dict(symbol="triangle-down", size=5, color="#9A9A9A")))

def pshape(path, fill, lc, lw):
    shapes.append(dict(type="path", path=path, xref="x9", yref="y9", fillcolor=fill, line=dict(color=lc, width=lw), layer="above"))
for n, l, r, t, b, tx, ty in DRUGS:
    c = 8
    pshape(f"M{l+c},{t} L{r-c},{t} Q{r},{t} {r},{t+c} L{r},{b-c} Q{r},{b} {r-c},{b} L{l+c},{b} Q{l},{b} {l},{b-c} L{l},{t+c} Q{l},{t} {l+c},{t} Z",
           "#F4B6A0", "#222", 1.4)
    txt(tx, ty, f"<b>{n}</b>", 24, color="#000")
for n, x, y, hw, ox, oy in DIAMONDS:
    pshape(f"M{x-hw},{y} L{x},{y-35.5} L{x+hw},{y} L{x},{y+35.5} Z", "#6F9FC6", "#4B7BA3", 0.8)
for n, x, y, hw, ox, oy in DIAMONDS:
    txt(x + ox, y + oy, n, 22, color="#111")
for n, x, y, ox in ELLIPSES:
    shapes.append(dict(type="circle", xref="x9", yref="y9", x0=x - 36.2, x1=x + 36.2, y0=y - 34.8, y1=y + 34.8,
                       fillcolor="white", line=dict(color="#111", width=1.5), layer="above"))
    txt(x + ox, y, n, 22, color="#111")
for n, x, y in OCTAGONS:
    hw, hh, cx, cy = 36.5, 35, 14, 14
    pshape(f"M{x-hw+cx},{y-hh} L{x+hw-cx},{y-hh} L{x+hw},{y-hh+cy} L{x+hw},{y+hh-cy} L{x+hw-cx},{y+hh} L{x-hw+cx},{y+hh} L{x-hw},{y+hh-cy} L{x-hw},{y-hh+cy} Z",
           "#72A898", "#222", 1.4)
    txt(x + 1, y, n, 23, color="#111")

# ---------- layout ----------
noaxis = dict(visible=False, showgrid=False, zeroline=False)
tf = lambda s, c="#222": dict(size=s, color=c, family=FONT)
layout = dict(
    width=W, height=H, margin=dict(l=0, r=0, t=0, b=0, autoexpand=False), autosize=False, showlegend=False,
    paper_bgcolor="white", plot_bgcolor="rgba(0,0,0,0)", font=dict(family=FONT), bargap=0,
    # a
    xaxis=dict(domain=dx(55.1, 499.8), range=[-0.602, 5.424], anchor="y", side="top", showline=True, linecolor="#000", linewidth=3,
               tickvals=[0,1,2,3,4,5], ticks="", tickfont=tf(21), showgrid=False, zeroline=False),
    yaxis=dict(domain=dy(94.3, 545.7), range=[1238, -26], anchor="x", **noaxis),
    # b
    xaxis2=dict(domain=dx(686.3, 1230), range=[-0.597, 14.57], anchor="y2", showline=True, linecolor="#000", linewidth=2.5, tickvals=xb,
                ticktext=[f"<i>{g}</i>" for g in GENES_B], tickangle=-90, ticks="outside", ticklen=7, tickcolor="rgba(0,0,0,0)",
                tickfont=tf(24, "#333"), showgrid=False, zeroline=False),
    yaxis2=dict(domain=dy(89, 472), range=[-2396, 56436], anchor="x2", showline=True, linecolor="#000", linewidth=2.5,
                tickvals=[0,20000,40000], ticks="outside", ticklen=6, tickwidth=1.5, tickangle=-90, tickformat="d", tickfont=tf(20, "#444"), showgrid=False, zeroline=False),
    # c
    xaxis3=dict(domain=dx(1311.6, 1681.8), range=[-0.5, 11.5], anchor="y3", tickvals=list(range(12)), ticktext=REPS_C, ticks="",
                tickfont=tf(22, "#111"), showgrid=False, zeroline=False),
    yaxis3=dict(domain=dy(67.2, 491.5), range=[14.5, -0.5], anchor="x3", side="right", tickvals=list(range(15)), ticktext=GENES_C, ticks="outside", ticklen=2,
                tickcolor="rgba(0,0,0,0)", tickfont=tf(20.5, "#111"), showgrid=False, zeroline=False),
    # e
    xaxis4=dict(domain=dx(160, 542), range=[-0.648, 4.687], anchor="y4", showline=True, linecolor="#000", linewidth=2, tickvals=list(range(5)),
                ticktext=CATS_E, tickangle=-45, ticks="outside", ticklen=8, tickwidth=3, tickcolor="#000", tickfont=tf(23), showgrid=False, zeroline=False),
    yaxis4=dict(domain=dy(1500, 1836.9), range=[0, 1.786], anchor="x4", tickvals=[0,0.5,1,1.5], tickformat=".1f", ticks="outside", ticklen=13,
                tickwidth=2, tickcolor="#000", tickfont=tf(22), showgrid=False, zeroline=False, showline=False),
    # f
    xaxis5=dict(domain=dx(165.4, 523), range=[-0.661, 4.69], anchor="y5", showline=True, linecolor="#000", linewidth=2, tickvals=list(range(5)),
                ticktext=CATS_F, tickangle=-45, ticks="outside", ticklen=6, tickwidth=3, tickcolor="#000", tickfont=tf(21.5), showgrid=False, zeroline=False),
    yaxis5=dict(domain=dy(2015, 2337), range=[0, 1.763], anchor="x5", tickvals=[0,0.5,1,1.5], tickformat=".1f", ticks="outside", ticklen=12,
                tickwidth=2, tickcolor="#000", tickfont=tf(22), showgrid=False, zeroline=False, showline=False),
    # page-wide frame for the tracks and the network
    xaxis9=dict(domain=[0, 1], range=[0, W], anchor="y9", **noaxis),
    yaxis9=dict(domain=[0, 1], range=[H, 0], anchor="x9", **noaxis),
    annotations=annots, shapes=shapes,
)
fig.update_layout(**layout)
fig.write_html("out.html", config={"displayModeBar": False}, post_script="document.body.style.margin='0';")
